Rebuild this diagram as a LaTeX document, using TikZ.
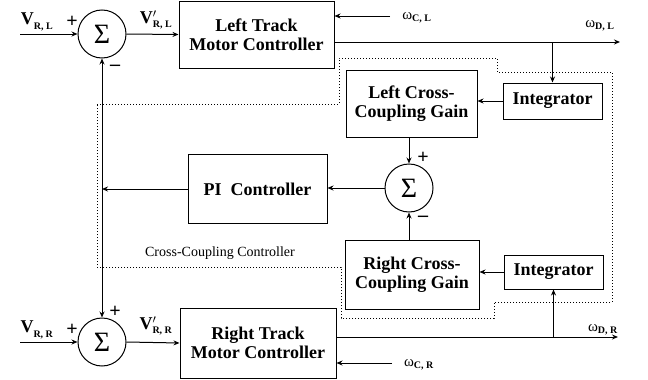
\documentclass[tikz,border=0pt]{standalone}
\usepackage{amsmath}
\usepackage{fontspec}
\setmainfont{Liberation Serif}
\usetikzlibrary{arrows.meta}
\newcommand{\vlab}[2]{$\mathbf{V}^{#1}_{\text{\fontsize{10}{10}\selectfont\bfseries #2}}$}
\newcommand{\wlab}[1]{ω$_{\text{\fontsize{10}{10}\selectfont\bfseries #1}}$}

\begin{document}
\begin{tikzpicture}[x=1pt, y=-1pt, line width=1pt,
      blk/.style={draw, inner sep=0pt, align=center,
                  font=\fontsize{18}{19}\selectfont\bfseries},
      sm/.style={draw, circle, minimum size=48pt, inner sep=0pt,
                 font=\fontsize{28}{28}\selectfont},
      sg/.style={inner sep=0pt, font=\fontsize{20}{20}\selectfont\bfseries},
      vl/.style={inner sep=0pt, font=\fontsize{18}{18}\selectfont},
      wl/.style={inner sep=0pt, font=\fontsize{15}{15}\selectfont},
      arr/.style={-{Stealth[length=6pt,width=5pt]}},
      both/.style={{Stealth[length=6pt,width=5pt]}-{Stealth[length=6pt,width=5pt]}},
      dots/.style={line width=1pt, dash pattern=on 1pt off 2pt}]
    \useasboundingbox (0,0) rectangle (648,380);
    \node[blk, minimum width=155pt, minimum height=67pt] (ltmc) at (256.5,34.5) {Left Track\\Motor Controller};
    \node[blk, minimum width=156pt, minimum height=70pt] (rtmc) at (258,343)    {Right Track\\Motor Controller};
    \node[blk, minimum width=131pt, minimum height=67pt] (lccg) at (411.5,103.5) {Left Cross-\\Coupling Gain};
    \node[blk, minimum width=134pt, minimum height=69pt] (rccg) at (412,274.5)  {Right Cross-\\Coupling Gain};
    \node[blk, minimum width=99pt,  minimum height=36pt] (intL) at (552.5,101)  {Integrator};
    \node[blk, minimum width=99pt,  minimum height=34pt] (intR) at (553.5,272)  {Integrator};
    \node[blk, minimum width=139pt, minimum height=69pt] (pi)   at (257.5,189)  {PI\ \ Controller};
    \node[sm] (sumL) at (102,34)  {Σ};
    \node[sm] (sumR) at (102,342) {Σ};
    \node[sm] (sumM) at (409,188) {Σ};
    \coordinate (inL) at (20,34);
    \coordinate (wcL) at (390,16);
    \coordinate (wdL) at (620,42);
    \coordinate (inR) at (20,342);
    \coordinate (wcR) at (392,363);
    \coordinate (wdR) at (618,337);
    \draw[arr] (inL) -- (sumL.west);
    \draw[arr] (sumL.east) -- (ltmc.west);
    \draw[arr] (wcL) -- (wcL -| ltmc.east);
    \draw[arr] (wdL -| ltmc.east) -- (wdL);
    \draw[arr] (intL.north |- wdL) -- (intL.north);
    \draw[arr] (intL.west) -- (intL.west -| lccg.east);
    \draw[arr] (sumM.north |- lccg.south) -- (sumM.north);
    \draw[arr] (sumM.south |- rccg.north) -- (sumM.south);
    \draw[arr] (sumM.west) -- (sumM.west -| pi.east);
    \draw[arr] (pi.west) -- (pi.west -| sumL.south);
    \draw[both] (sumL.south) -- (sumR.north);
    \draw[arr] (inR) -- (sumR.west);
    \draw[arr] (sumR.east) -- (rtmc.west);
    \draw[arr] (wdR -| rtmc.east) -- (wdR);
    \draw[arr] (intR.south |- wdR) -- (intR.south);
    \draw[arr] (intR.west) -- (intR.west -| rccg.east);
    \draw[arr] (wcR) -- (wcR -| rtmc.east);
    \draw[dots] (97,104) -- (339,104) -- (339,58) -- (497,58) -- (497,72) -- (612,72)
      -- (612,302) -- (494,302) -- (494,318) -- (341,318) -- (341,267) -- (97,267) -- cycle;
    \node[vl] (lvrl)  at (37,22)   {\vlab{}{R, L}};
    \node[vl] (lvprl) at (156,20)  {\vlab{\prime}{R, L}};
    \node[vl] (lvrr)  at (37,330)  {\vlab{}{R, R}};
    \node[vl] (lvprr) at (156,326) {\vlab{\prime}{R, R}};
    \node[wl] (lwcl) at (417,18)  {\wlab{C, L}};
    \node[wl] (lwdl) at (600,26)  {\wlab{D, L}};
    \node[wl] (lwdr) at (603,330) {\wlab{D, R}};
    \node[wl] (lwcr) at (419,365) {\wlab{C, R}};
    \node[sg] (pL1) at (72,22)   {+};
    \node[sg] (mL1) at (115,68)  {--};
    \node[sg] (pM1) at (423,158) {+};
    \node[sg] (mM1) at (423,219) {--};
    \node[sg] (pR1) at (72,330)  {+};
    \node[sg] (pR2) at (115,312) {+};
    \node[inner sep=0pt, font=\fontsize{14}{14}\selectfont] (ccc) at (220,253) {Cross-Coupling Controller};
  \end{tikzpicture}
\end{document}
